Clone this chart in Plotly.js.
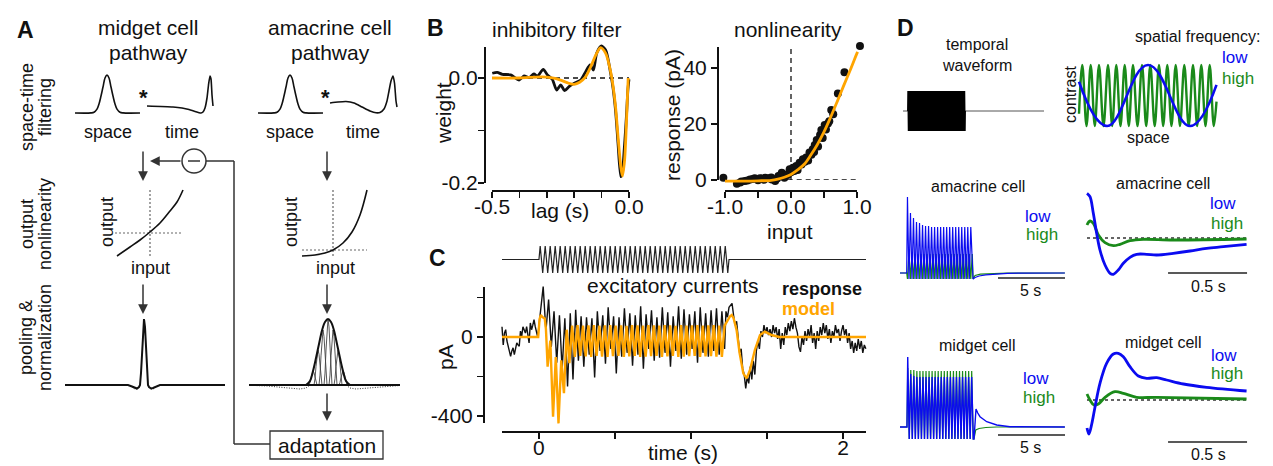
<!DOCTYPE html>
<html><head><meta charset="utf-8">
<script src="https://cdn.plot.ly/plotly-3.0.1.min.js"></script>
<style>html,body{margin:0;padding:0;background:#fff}#chart{width:1273px;height:466px}</style>
</head><body><div id="chart"></div>
<script>
// ================= DATA =================
// Panel A schematic curves (units: pixel offsets / heights above baseline)
const aSpaceX = [-32,-16,-13,-10,-8,-6,-4,-2,0,2,4,6,8,10,13,16,33];
const aSpaceH = [0,0.1,0.8,3.9,9,17,26,35,38,35,26,17,9,3.9,0.8,0.1,0];
const aMidgetTimeX = [0,26,35,42,48,52,54,56,58,60,61.5,63,64,65,66];
const aMidgetTimeH = [7,6,5,3.5,1.5,0.3,0,1,5,15,28,37,34,18,7];
const aAmacrineTimeX = [0,8,16,24,32,40,46,50,54,57,59,61,63,64.5,66,67];
const aAmacrineTimeH = [10,11,11.5,10,6,2,0.2,0.5,4,12,22,32,37,30,12,6];
const aMidgetNlX = [0,13,23,33,43,53,60,66];
const aMidgetNlH = [0,9,16,24,33,45,54,66];
const aMidgetNlCross = [33,23];
const aAmacrineNlX = [0,13,23,31,41,50,58,65];
const aAmacrineNlH = [0,1,3,6,13,24,41,66];
const aAmacrineNlCross = [31,6];
const aMidgetPoolX = [-79,-16,-12,-9,-7,-5,-4,-3,-2,-1,0,1,2,3,4,5,7,9,12,16,81];
const aMidgetPoolH = [0,0,-1.5,-3,-3.5,-2,0,12,35,58,66,58,35,12,0,-2,-3.5,-3,-1.5,0,0];
const aMidgetLobeLX = [-14,-11,-8,-6,-4], aMidgetLobeLH = [0,-3,-4.5,-3,0];
const aMidgetLobeRX = [4,6,8,11,14],      aMidgetLobeRH = [0,-3,-4.5,-3,0];
const aAmaPoolX = [-22,-18,-15,-12,-9,-6,-3,0,3,6,9,12,15,18,22];
const aAmaPoolH = [0,4,14,27,41,54.5,63,66,63,54.5,41,27,14,4,0];
const aAmaBaseX = [-79,72];
const aAmaInnerOffset = [-15,-10,-5,0,5,10,15];
const aAmaInnerHeight = [14,35,55,66,55,35,14];
const aNarrowX = [-4,-3,-2,-1,0,1,2,3,4];
const aNarrowUnit = [0,0.18,0.53,0.88,1,0.88,0.53,0.18,0];
const aAmaLobeLX = [-79,-60,-45,-35,-28,-22,-18], aAmaLobeLH = [-0.3,-1,-2.5,-3.5,-4,-3,0];
const aAmaLobeRX = [18,22,28,35,45,60,72],       aAmaLobeRH = [0,-3,-4,-3.5,-2.5,-1,-0.5];

// Panel B - inhibitory filter
const bLagResp = [-0.499,-0.481,-0.462,-0.432,-0.401,-0.383,-0.365,-0.347,-0.334,-0.313,-0.298,-0.280,-0.264,-0.249,-0.235,-0.219,-0.201,-0.176,-0.158,-0.142,-0.130,-0.118,-0.101,-0.085,-0.067,-0.058,-0.049,-0.040,-0.030,-0.024,-0.018,-0.012,-0.008,-0.004,0.0];
const bWeightResp = [0.009,0.0107,0.007,0.006,-0.0038,0.0038,0.0006,0.0076,0.0038,0.0165,0.006,-0.0025,-0.0229,-0.0133,-0.0241,-0.0165,-0.0102,-0.0038,0.0121,0.0248,0.0152,0.047,0.061,0.053,0.009,-0.020,-0.062,-0.125,-0.188,-0.180,-0.140,-0.095,-0.060,-0.022,-0.0025];
const bLagModel = [-0.5,-0.4,-0.32,-0.28,-0.25,-0.22,-0.20,-0.18,-0.16,-0.14,-0.12,-0.104,-0.085,-0.067,-0.058,-0.049,-0.039,-0.030,-0.024,-0.016,-0.008,-0.003];
const bWeightModel = [0,0,0.002,0,-0.004,-0.010,-0.012,-0.008,0.001,0.021,0.045,0.058,0.047,0.012,-0.016,-0.055,-0.118,-0.169,-0.187,-0.156,-0.067,0];
// Panel B - nonlinearity
const bInputResp = [-1.025,-0.82,-0.77,-0.70,-0.62,-0.55,-0.50,-0.44,-0.39,-0.34,-0.29,-0.24,-0.19,-0.14,-0.10,-0.07,-0.02,0.03,0.08,0.13,0.18,0.23,0.28,0.33,0.36,0.39,0.44,0.46,0.51,0.56,0.61,0.71,0.81,1.045,-0.75,-0.66,-0.58,-0.47,-0.41,-0.30,-0.21,-0.16,-0.05,0.0,0.05,0.10,0.16,0.21,0.26,0.31,0.35,0.41,0.48,0.53,0.58,0.64];
const bRespResp = [0.8,-1.3,-0.9,-0.4,0.2,0.6,-0.1,0.5,0.8,0.6,0.2,-0.4,1.4,2.6,0.8,2.0,3.8,4.4,5.0,6.2,7.4,8.0,9.8,11.0,12.5,14.3,16.1,17.9,19.6,20.2,25.0,30.9,38.5,47.9,-0.5,-0.2,0.4,0.6,0.1,0.9,0.5,1.6,1.8,2.8,3.2,3.6,5.5,6.5,7.0,9.0,10.0,12.0,15.0,18.0,21.0,23.5];
const bInputModel = [-1.0,-0.7,-0.5,-0.3,-0.2,-0.1,0.0,0.1,0.2,0.3,0.4,0.5,0.6,0.7,0.8,0.9,1.0,1.01];
const bRespModel = [-0.4,-0.4,-0.3,-0.1,0.3,1.0,2.0,3.6,5.6,8.9,12.7,17.2,22.4,28.0,33.8,39.4,45.3,45.8];

// Panel C - stimulus and excitatory currents
const cStimOnOff = [0.0, 1.25];
const cStimPeaks = [1,1,1,1,1,1,1,1,1,1,1,1,1,1,1,1,1,1,1,1,1,1,1,1,1,1,1,1,1,1,1,1,1,1,1,1,1,1];
const cStimTroughs = [-1,-1,-1,-1,-1,-1,-1,-1,-1,-1,-1,-1,-1,-1,-1,-1,-1,-1,-1,-1,-1,-1,-1,-1,-1,-1,-1,-1,-1,-1,-1,-1,-1,-1,-1,-1,-1,-1];
const cModelPreT = [-0.243,-0.005,0.004,0.012,0.025,0.038,0.046];
const cModelPreV = [0,0,90,111,100,94,40];
const cModelOsc = [0.048, 1.23];
const cModelTroughs = [-150,-403,-437,-284,-132,-100,-95,-98,-100,-96,-99,-100,-97,-95,-100,-98,-96,-100,-99,-97,-95,-100,-98,-96,-100,-99,-97,-95,-100,-98,-97,-99,-100];
const cModelPeaks = [-18,-101,-118,37,58,60,58,59,60,58,59,60,58,59,57,60,59,58,60,59,58,60,59,57,60,58,59,60,58,59,60,58,57];
const cModelPostT = [1.24,1.257,1.268,1.28,1.30,1.32,1.344,1.366,1.388,1.42,1.454,1.486,1.53,1.58,2.151];
const cModelPostV = [80,105,111,95,35,-83,-184,-209,-167,-66,10,27,10,0,0];
const cRespPreStart = -0.243, cRespPreStep = 0.0081;
const cRespPre = [52,-40,20,37,-20,-47,-80,-98,-70,-55,-89,-50,-30,-40,-47,30,3,52,30,20,52,10,-30,71,37,60,88,52,30,0];
const cRespOsc = [0.019, 1.23];
const cRespPeaks = [255,190,130,110,95,120,138,105,100,95,130,110,150,105,100,145,120,110,155,115,135,100,150,125,105,155,140,115,130,150,120,135,145,130];
const cRespTroughs = [30,-50,-130,-165,-250,-215,-120,-150,-90,-205,-70,-135,-60,-185,-100,-80,-145,-90,-160,-60,-120,-105,-80,-150,-70,-110,-90,-60,-130,-80,-100,-70,-90,-60];
const cRespPostStart = 1.23, cRespPostStep = 0.01;
const cRespPost = [130,100,150,160,170,110,60,80,-10,-80,-60,-160,-190,-260,-200,-235,-150,-215,-120,-190,-70,-20,-60,30,0,60,20,50,10,40,0,60,20,50,-10,40,-60,20,-40,50,10,70,30,80,40,95,50,20,-50,-75,0,-40,30,-20,40,0,60,-30,20,-60,30,-20,50,10,70,20,60,-10,40,-30,30,0,60,20,40,-20,30,60,10,40,-30,20,-60,-20,-80,-30,-70,-10,-60,-20,-80,-40,-60];

// Panel D - temporal waveform and spatial gratings
const dWaveBlock = [0.37, 4.63], dWaveEnd = 10.52;
const dWavePeaks = [1,1,1,1,1,1,1,1,1,1,1,1,1,1,1,1,1,1,1,1,1,1,1,1,1,1,1,1,1,1,1,1,1,1,1,1,1,1,1,1,1,1,1,1,1,1,1,1,1,1,1,1,1,1,1,1,1,1,1,1];
const dWaveTroughs = [-1,-1,-1,-1,-1,-1,-1,-1,-1,-1,-1,-1,-1,-1,-1,-1,-1,-1,-1,-1,-1,-1,-1,-1,-1,-1,-1,-1,-1,-1,-1,-1,-1,-1,-1,-1,-1,-1,-1,-1,-1,-1,-1,-1,-1,-1,-1,-1,-1,-1,-1,-1,-1,-1,-1,-1,-1,-1,-1,-1];
const dGreenX = [0,3.3,7.5,11.7,15.8,20,24.5,29,33.2,37.3,41.5,45.7,49.8,54,58.5,63,67.2,71.3,75.7,80,84.2,88.3,92.5,96.7,101,105.3,109.7,114,118.2,122.3,126.5,130.7,134.8,137.5];
const dGreenY = [-0.6,1,-1,1,-1,1,-1,1,-1,1,-1,1,-1,1,-1,1,-1,1,-1,1,-1,1,-1,1,-1,1,-1,1,-1,1,-1,1,-1,-0.2];
const dBlueX = [0,28,69,111,137.5];
const dBlueY = [0.45,-1,1,-1,0.35];
// Panel D - amacrine cell, long traces
const dAmaBlock = [0.5, 5.45];
const dAmaBluePeaks = [76,60,55,51,50,48,47,47,46,46,46,46,46,46,46,46,46,46,46,46,46,46];
const dAmaBlueTroughs = [-6,-6,-6,-6,-6,-6,-6,-6,-6,-6,-6,-6,-6,-6,-6,-6,-6,-6,-6,-6,-6,-6];
const dAmaGreenPeaks = [21,19,19,19,19,19,19,19,19,19,19,19,19,19,19,19,19,19,19,19,19,19];
const dAmaGreenTroughs = [-6,-6,-6,-6,-6,-6,-6,-6,-6,-6,-6,-6,-6,-6,-6,-6,-6,-6,-6,-6,-6,-6];
const dAmaBluePostT = [5.45,5.6,5.9,6.4,7.1,8.0,9.0,12.3], dAmaBluePostV = [-6,-4.5,-3,-1.8,-0.9,-0.4,-0.1,0];
const dAmaGreenPostT = [5.45,5.6,6.0,6.8,8.0,12.3],      dAmaGreenPostV = [-6,-2.5,-1.2,-0.5,-0.1,0];
// Panel D - amacrine cell, step responses
const dAmaStepBlueT = [0,0.019,0.040,0.061,0.082,0.114,0.146,0.167,0.198,0.230,0.272,0.314,0.378,0.441,0.546,0.652,0.757,0.863,1.010];
const dAmaStepBlueV = [44.7,41.3,24.7,4.7,-12,-27,-35.3,-36.3,-32,-25.3,-19.3,-16.3,-16.3,-17,-15.3,-13,-10.3,-8.7,-6.3];
const dAmaStepGreenT = [0,0.019,0.040,0.072,0.114,0.167,0.209,0.272,0.356,0.546,1.010];
const dAmaStepGreenV = [13,17,14.7,3,-4.7,-7.7,-6.3,-2.7,-1.3,-2,-1];
// Panel D - midget cell, long traces
const dMidBlock = [0.52, 5.52];
const dMidBluePeaks = [70,53,51,50,50,50,50,50,50,50,50,50,50,50,50,50,50,50,50,50,50,50];
const dMidBlueTroughs = [-12,-12,-12,-12,-12,-12,-12,-12,-12,-12,-12,-12,-12,-12,-12,-12,-12,-12,-12,-12,-12,-12];
const dMidGreenPeaks = [59,57,57,56,56,56,56,56,56,56,56,56,56,56,56,56,56,56,56,56,56,56];
const dMidGreenTroughs = [-12,-12,-12,-12,-12,-12,-12,-12,-12,-12,-12,-12,-12,-12,-12,-12,-12,-12,-12,-12,-12,-12];
const dMidBluePostT = [5.52,5.62,5.67,5.8,5.97,6.47,7.22,8.2,9.5,12.3], dMidBluePostV = [-12,10,18,14,10.3,5.3,2,0.3,0,0];
const dMidGreenPostT = [5.52,5.65,5.9,6.4,7.2,12.3],           dMidGreenPostV = [-12,-3,-1.5,-0.5,0,0];
// Panel D - midget cell, step responses
const dMidStepBlueT = [0,0.012,0.030,0.051,0.082,0.124,0.167,0.198,0.230,0.272,0.325,0.378,0.441,0.504,0.610,0.757,1.010];
const dMidStepBlueV = [-28,-34,-24,-6.7,16.7,36.7,46,46.7,43.3,33.3,24,21.7,22.3,20,16,12.7,9];
const dMidStepGreenT = [0,0.019,0.044,0.072,0.114,0.177,0.230,0.314,0.441,1.010];
const dMidStepGreenV = [6,0,-5,-4,2.7,8.3,6.7,2.7,2.7,1];
// scale bars
const dLongBar = [7.31, 12.31];   // 5 s
const dShortBar = [0.513, 1.013]; // 0.5 s

// ================= BUILD =================
const W=1273,H=466;
const FONT='Liberation Sans, Arial, Helvetica, sans-serif';
const BLUE='#0b0bf0', GREEN='#1a8a1a', ORANGE='#ffa500', INK='#111';
const layout={width:W,height:H,margin:{l:0,r:0,t:0,b:0,pad:0},paper_bgcolor:'#ffffff',plot_bgcolor:'rgba(0,0,0,0)',
  showlegend:false,hovermode:false,font:{family:FONT,color:INK,size:16},annotations:[],shapes:[]};
const traces=[];
let axN=0;
function newAxes(xa,ya){axN++;const s=axN===1?'':String(axN);
  if(!xa.anchor)xa.anchor='y'+s; if(!ya.anchor)ya.anchor='x'+s;
  layout['xaxis'+s]=xa; layout['yaxis'+s]=ya; return {x:'x'+s,y:'y'+s};}
// box = [pxLeft, pxRight, pyTop, pyBottom]; xr maps to left/right; yr = [value at bottom, value at top]
function mini(box,xr,yr,pad){ if(pad===undefined)pad=6;
  const sx=(xr[1]-xr[0])/(box[1]-box[0]), sy=(yr[1]-yr[0])/(box[3]-box[2]);
  return newAxes(
    {visible:false,domain:[(box[0]-pad)/W,(box[1]+pad)/W],range:[xr[0]-pad*sx,xr[1]+pad*sx],fixedrange:true},
    {visible:false,domain:[1-(box[3]+pad)/H,1-(box[2]-pad)/H],range:[yr[0]-pad*sy,yr[1]+pad*sy],fixedrange:true});}
function line(ax,x,y,o){o=o||{};traces.push({type:'scatter',mode:'lines',x:x,y:y,xaxis:ax.x,yaxis:ax.y,
  line:{color:o.color||INK,width:o.width||1.6,dash:o.dash||'solid',shape:o.shape||'linear',smoothing:o.smoothing||1},hoverinfo:'skip'});}
function zig(t0,t1,first,second){const n=first.length,P=(t1-t0)/n,xs=[],ys=[];
  for(let i=0;i<n;i++){xs.push(t0+(i+0.25)*P);ys.push(first[i]);xs.push(t0+(i+0.75)*P);ys.push(second[i]);}
  return [xs,ys];}
function txt(s,x,y,o){o=o||{};layout.annotations.push({text:s,x:x/W,y:1-y/H,xref:'paper',yref:'paper',showarrow:false,
  xanchor:o.xanchor||'center',yanchor:'middle',textangle:o.rot?-90:0,font:{family:FONT,size:o.size||16,color:o.color||INK}});}
function arrow(x0,y0,x1,y1){layout.annotations.push({text:'',x:x1/W,y:1-y1/H,xref:'paper',yref:'paper',ax:x0-x1,ay:y0-y1,
  axref:'pixel',ayref:'pixel',showarrow:true,arrowhead:2,arrowsize:1.3,arrowwidth:1.5,arrowcolor:'#333'});}
function seg(x0,y0,x1,y1){layout.shapes.push({type:'line',xref:'paper',yref:'paper',x0:x0/W,y0:1-y0/H,x1:x1/W,y1:1-y1/H,line:{color:'#333',width:1.5}});}

// ---------- Panel A ----------
const A1=mini([75,140,75,113],[-32,33],[0,38]);   line(A1,aSpaceX,aSpaceH,{shape:'spline'});
const A2=mini([147,213,75,113],[0,66],[0,38]);    line(A2,aMidgetTimeX,aMidgetTimeH,{shape:'spline',smoothing:0.6});
const A3=mini([258,323,75,113],[-32,33],[0,38]);  line(A3,aSpaceX,aSpaceH,{shape:'spline'});
const A4=mini([330,397,75,113],[0,67],[0,38]);    line(A4,aAmacrineTimeX,aAmacrineTimeH,{shape:'spline',smoothing:0.6});
const A5=mini([117,183,190,256],[0,66],[0,66]);
line(A5,[aMidgetNlCross[0],aMidgetNlCross[0]],[0,66],{color:'#666',width:1.2,dash:'2px,2px'});
line(A5,[-2,66],[aMidgetNlCross[1],aMidgetNlCross[1]],{color:'#666',width:1.2,dash:'2px,2px'});
line(A5,aMidgetNlX,aMidgetNlH,{shape:'spline'});
const A6=mini([302,367,190,256],[0,65],[0,66]);
line(A6,[aAmacrineNlCross[0],aAmacrineNlCross[0]],[0,66],{color:'#666',width:1.2,dash:'2px,2px'});
line(A6,[0,65],[aAmacrineNlCross[1],aAmacrineNlCross[1]],{color:'#666',width:1.2,dash:'2px,2px'});
line(A6,aAmacrineNlX,aAmacrineNlH,{shape:'spline'});
const A7=mini([65,225,319,385],[-79,81],[0,66]);
line(A7,aMidgetLobeLX,aMidgetLobeLH,{width:1,dash:'1px,1.5px',color:'#333'});
line(A7,aMidgetLobeRX,aMidgetLobeRH,{width:1,dash:'1px,1.5px',color:'#333'});
line(A7,aMidgetPoolX,aMidgetPoolH,{width:2});
const A8=mini([249,400,319,385],[-79,72],[0,66]);
line(A8,aAmaLobeLX,aAmaLobeLH,{width:1,dash:'1px,1.5px',color:'#333'});
line(A8,aAmaLobeRX,aAmaLobeRH,{width:1,dash:'1px,1.5px',color:'#333'});
for(let k=0;k<aAmaInnerOffset.length;k++){
  line(A8,aNarrowX.map(v=>v+aAmaInnerOffset[k]),aNarrowUnit.map(u=>u*aAmaInnerHeight[k]),{width:0.9,color:'#444'});}
line(A8,aAmaBaseX,[0,0],{width:2});
line(A8,aAmaPoolX,aAmaPoolH,{width:2,shape:'spline'});

txt('<b>A</b>',25,30,{size:23});
txt('midget cell',148,28,{size:21}); txt('pathway',148,53,{size:21});
txt('amacrine cell',330,28,{size:21}); txt('pathway',330,53,{size:21});
txt('space-time',27,107,{size:18,rot:1}); txt('filtering',45,107,{size:18,rot:1});
txt('output',27,224,{size:18,rot:1}); txt('nonlinearity',45,224,{size:18,rot:1});
txt('pooling &amp;',26,338,{size:18,rot:1}); txt('normalization',45,338,{size:18,rot:1});
txt('<b>*</b>',143,97,{size:22}); txt('<b>*</b>',326,97,{size:22});
txt('space',108,132,{size:18}); txt('time',182,132,{size:18});
txt('space',290,132,{size:18}); txt('time',363,132,{size:18});
txt('output',107,222,{size:18,rot:1}); txt('input',150,268,{size:18});
txt('output',291,222,{size:18,rot:1}); txt('input',335,268,{size:18});
txt('adaptation',327,445,{size:21});
arrow(143,150,143,181); arrow(327,150,327,181); arrow(182,161,150,161);
arrow(143,283,143,314); arrow(327,283,327,314); arrow(327,392,327,421);
seg(206,161,234,161); seg(234,161,234,444); seg(234,444,270,444); seg(188,161,200,161);
layout.shapes.push({type:'circle',xref:'paper',yref:'paper',x0:182/W,x1:206/W,y0:1-173/H,y1:1-149/H,line:{color:'#333',width:1.5}});
layout.shapes.push({type:'rect',xref:'paper',yref:'paper',x0:270/W,x1:383/W,y0:1-459/H,y1:1-431/H,line:{color:'#333',width:1.3}});

// ---------- Panel B ----------
const tickBase={showline:true,linecolor:INK,linewidth:1.5,ticks:'outside',ticklen:6,tickwidth:1.5,tickcolor:INK,
  showgrid:false,zeroline:false,tickfont:{family:FONT,size:21,color:INK},fixedrange:true,tickmode:'array'};
const xTick={ticklabelstandoff:-9};
const B1v=newAxes(Object.assign({},tickBase,xTick,{domain:[492/W,629/W],range:[-0.5,0],anchor:'free',position:1-190/H,
    tickvals:[-0.5,-0.4,-0.3,-0.2,-0.1,0],ticktext:['-0.5','','','','','0.0']}),
  Object.assign({},tickBase,{domain:[1-183/H,1-47/H],range:[-0.2,0.059],anchor:'free',position:484/W,ticklabelstandoff:-4,
    tickvals:[-0.2,-0.1,0],ticktext:['-0.2','','0.0']}));
line(B1v,[-0.5,0],[0,0],{width:1.3,dash:'5px,4px'});
const B1=mini([492,629,47,183],[-0.5,0],[-0.2,0.059],10);
line(B1,bLagResp,bWeightResp,{width:2.8,shape:'spline',smoothing:0.7});
line(B1,bLagModel,bWeightModel,{width:2.8,color:ORANGE,shape:'spline',smoothing:0.8});

const B2v=newAxes(Object.assign({},tickBase,xTick,{domain:[725/W,857/W],range:[-1,1],anchor:'free',position:1-190/H,
    tickvals:[-1,-0.5,0,0.5,1],ticktext:['-1.0','','0.0','','1.0']}),
  Object.assign({},tickBase,{domain:[1-180/H,1-47/H],range:[0,47.5],anchor:'free',position:717/W,
    tickvals:[0,20,40],ticktext:['0','20','40']}));
line(B2v,[0,0],[0,47.5],{width:1.3,dash:'5px,4px'});
line(B2v,[-0.05,1],[0,0],{width:1.3,dash:'5px,4px'});
const B2=mini([725,857,47,180],[-1,1],[0,47.5],10);
traces.push({type:'scatter',mode:'markers',x:bInputResp,y:bRespResp,xaxis:B2.x,yaxis:B2.y,cliponaxis:false,
  marker:{color:INK,size:8,line:{width:0}},hoverinfo:'skip'});
line(B2,bInputModel,bRespModel,{width:2.8,color:ORANGE,shape:'spline'});

txt('<b>B</b>',435,28,{size:23});
txt('inhibitory filter',557,30,{size:21}); txt('nonlinearity',788,30,{size:21});
txt('weight',443,113,{size:21,rot:1}); txt('lag (s)',560,211,{size:21});
txt('response (pA)',672,115,{size:21,rot:1}); txt('input',790,231,{size:21});

// ---------- Panel C ----------
const Cv=newAxes(Object.assign({},tickBase,xTick,{domain:[502/W,866/W],range:[-0.243,2.151],anchor:'free',position:1-431/H,
    tickvals:[0,0.5,1,1.5,2],ticktext:['0','','','','2']}),
  Object.assign({},tickBase,{domain:[1-423/H,1-287/H],range:[-435,253],anchor:'free',position:483/W,
    tickvals:[-400,-200,0,200],ticktext:['-400','','0','']}));
traces.push({type:'scatter',mode:'markers',x:[0],y:[0],xaxis:Cv.x,yaxis:Cv.y,marker:{opacity:0},hoverinfo:'skip'});
const Cs=mini([502,866,246,273],[-0.243,2.151],[-1,1],4);
{ const z=zig(cStimOnOff[0],cStimOnOff[1],cStimPeaks,cStimTroughs);
  line(Cs,[-0.243,cStimOnOff[0]].concat(z[0],[cStimOnOff[1],2.151]),[0,0].concat(z[1],[0,0]),{width:1.2,color:'#222'}); }
const Cd=mini([502,866,287,423],[-0.243,2.151],[-435,253],12);
{ const tPre=cRespPre.map((v,i)=>cRespPreStart+i*cRespPreStep);
  const z=zig(cRespOsc[0],cRespOsc[1],cRespPeaks,cRespTroughs);
  const tPost=cRespPost.map((v,i)=>cRespPostStart+i*cRespPostStep);
  line(Cd,tPre.concat(z[0],tPost),cRespPre.concat(z[1],cRespPost),{width:1.4,color:INK}); }
{ const z=zig(cModelOsc[0],cModelOsc[1],cModelTroughs,cModelPeaks);
  line(Cd,cModelPreT.concat(z[0],cModelPostT),cModelPreV.concat(z[1],cModelPostV),{width:2.4,color:ORANGE}); }
txt('<b>C</b>',437,258,{size:23});
txt('excitatory currents',673,285,{size:21});
txt('<b>response</b>',780,289,{size:18,xanchor:'left'});
txt('<b>model</b>',780,309,{size:18,xanchor:'left',color:ORANGE});
txt('pA',445,357,{size:21,rot:1}); txt('time (s)',683,452,{size:21});

// ---------- Panel D ----------
const D1=mini([903,1044,91,131],[0,dWaveEnd],[-1,1],4);
line(D1,[0,dWaveEnd],[0,0],{width:1,color:'#555'});
{ const z=zig(dWaveBlock[0],dWaveBlock[1],dWavePeaks,dWaveTroughs);
  line(D1,[dWaveBlock[0]].concat(z[0],[dWaveBlock[1]]),[0].concat(z[1],[0]),{width:1.8,color:'#000'}); }
const D2=mini([1079,1217,65,126],[0,138],[-1,1],4);
line(D2,dGreenX,dGreenY,{width:2.4,color:GREEN,shape:'spline'});
line(D2,dBlueX,dBlueY,{width:2.6,color:BLUE,shape:'spline',smoothing:1.2});

const D3=mini([900,1065,197,279],[0,12.31],[-6,76],4);
{ const g=zig(dAmaBlock[0],dAmaBlock[1],dAmaGreenTroughs,dAmaGreenPeaks);
  line(D3,[0,dAmaBlock[0]].concat(g[0],dAmaGreenPostT),[0,0].concat(g[1],dAmaGreenPostV),{width:1.2,color:GREEN});
  const b=zig(dAmaBlock[0],dAmaBlock[1],dAmaBluePeaks,dAmaBlueTroughs);
  line(D3,[0,dAmaBlock[0]].concat(b[0],dAmaBluePostT),[0,0].concat(b[1],dAmaBluePostV),{width:1.2,color:BLUE}); }
line(D3,dLongBar,[-5,-5],{width:1.5,color:'#222'});

const D4=mini([1087,1247,193,274],[0,1.0127],[-36,45],4);
line(D4,[0,1.01],[0,0],{width:1.3,color:'#333',dash:'3px,3px'});
line(D4,dAmaStepGreenT,dAmaStepGreenV,{width:2.8,color:GREEN,shape:'spline'});
line(D4,dAmaStepBlueT,dAmaStepBlueV,{width:2.8,color:BLUE,shape:'spline'});
line(D4,dShortBar,[-35,-35],{width:1.5,color:'#222'});

const D5=mini([900,1065,357,439],[0,12.31],[-12,70],4);
{ const g=zig(dMidBlock[0],dMidBlock[1],dMidGreenPeaks,dMidGreenTroughs);
  line(D5,[0,dMidBlock[0]].concat(g[0],dMidGreenPostT),[0,0].concat(g[1],dMidGreenPostV),{width:1.2,color:GREEN});
  const b=zig(dMidBlock[0],dMidBlock[1],dMidBluePeaks,dMidBlueTroughs);
  line(D5,[0,dMidBlock[0]].concat(b[0],dMidBluePostT),[0,0].concat(b[1],dMidBluePostV),{width:1.4,color:BLUE}); }
line(D5,dLongBar,[-8,-8],{width:1.5,color:'#222'});

const D6=mini([1087,1247,353,442],[0,1.0127],[-42,47],4);
line(D6,[0,1.01],[0,0],{width:1.3,color:'#333',dash:'3px,3px'});
line(D6,dMidStepGreenT,dMidStepGreenV,{width:2.8,color:GREEN,shape:'spline'});
line(D6,dMidStepBlueT,dMidStepBlueV,{width:2.8,color:BLUE,shape:'spline'});
line(D6,dShortBar,[-42,-42],{width:1.5,color:'#222'});

txt('<b>D</b>',905,28,{size:23});
txt('temporal',977,45,{size:16}); txt('waveform',977,66,{size:16});
txt('spatial frequency:',1197,36,{size:16});
txt('low',1235,57,{size:17,color:BLUE}); txt('high',1238,78,{size:17,color:GREEN});
txt('contrast',1070,95,{size:16,rot:1}); txt('space',1148,137,{size:16});
txt('amacrine cell',978,186,{size:16}); txt('amacrine cell',1163,183,{size:16});
txt('low',1038,216,{size:17,color:BLUE}); txt('high',1042,234,{size:17,color:GREEN});
txt('low',1223,204,{size:17,color:BLUE}); txt('high',1227,223,{size:17,color:GREEN});
txt('5 s',1030,290,{size:16}); txt('0.5 s',1208,286,{size:16});
txt('midget cell',977,345,{size:16}); txt('midget cell',1163,342,{size:16});
txt('low',1036,378,{size:17,color:BLUE}); txt('high',1039,397,{size:17,color:GREEN});
txt('low',1224,355,{size:17,color:BLUE}); txt('high',1227,373,{size:17,color:GREEN});
txt('5 s',1030,447,{size:16}); txt('0.5 s',1208,454,{size:16});

Plotly.newPlot('chart',traces,layout,{staticPlot:true,displayModeBar:false});
</script></body></html>
